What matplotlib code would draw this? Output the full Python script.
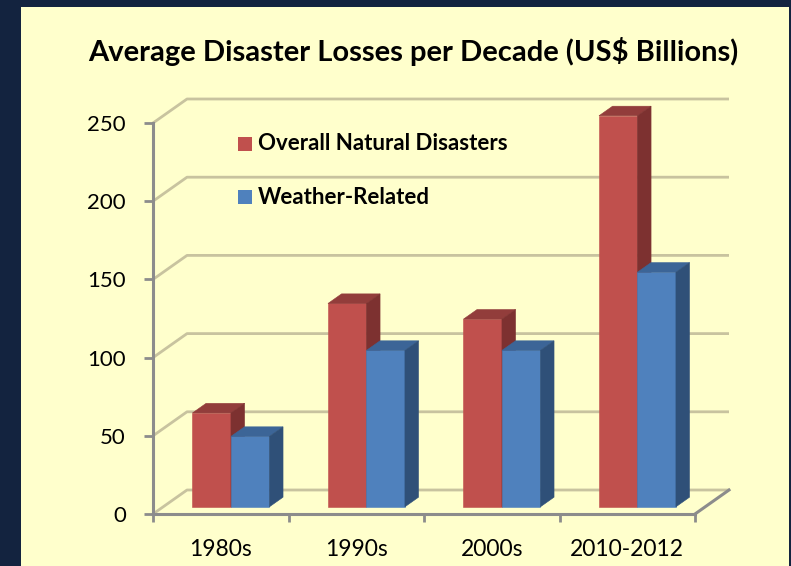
import matplotlib
matplotlib.use("Agg")
import matplotlib.pyplot as plt
from matplotlib.patches import Polygon, Rectangle

plt.rcParams['font.family'] = ['Lato', 'DejaVu Sans']

# ---- data ----
categories = ["1980s", "1990s", "2000s", "2010-2012"]
overall = [60, 130, 120, 250]
weather = [45, 100, 100, 150]
series_names = ["Overall Natural Disasters", "Weather-Related"]
y_ticks = [0, 50, 100, 150, 200, 250]
title = "Average Disaster Losses per Decade (US$ Billions)"

# ---- style ----
BG = "#FFFFCC"
FRAME = "#13233F"
GRID = "#C8C39F"
AXIS = "#8C8C8C"
FACES = {
    0: ("#C0504D", "#923D3B", "#7D3130"),   # front, top, side
    1: ("#4F81BD", "#3C6597", "#2F5078"),
}

W, H = 791, 566
fig = plt.figure(figsize=(W / 100, H / 100), dpi=100)
fig.patch.set_facecolor(FRAME)
fig.add_artist(Rectangle((21 / W, 0), (789 - 21) / W, (H - 7) / H,
                         transform=fig.transFigure, facecolor=BG,
                         edgecolor="none", zorder=0))

# front plane of the plot box
x0_px, x1_px, ytop_px, ybot_px = 153, 695, 123, 514
ax = fig.add_axes([x0_px / W, (H - ybot_px) / H,
                   (x1_px - x0_px) / W, (ybot_px - ytop_px) / H])
ax.set_facecolor("none")
ax.set_xlim(-0.5, len(categories) - 0.5)
ax.set_ylim(0, 250)

# depth offset of the back wall, in data units
px_per_cat = (x1_px - x0_px) / len(categories)
px_per_val = (ybot_px - ytop_px) / 250
DX = 34 / px_per_cat
DY = 24 / px_per_val


def proj(x, v, d):
    return (x + d * DX, v + d * DY)


xl, xr = -0.5, len(categories) - 0.5

# gridlines on side and back walls
for v in y_ticks:
    pts = [proj(xl, v, 0), proj(xl, v, 1), proj(xr, v, 1)]
    ax.plot(*zip(*pts), color=GRID, lw=2.0, solid_capstyle="butt",
            clip_on=False, zorder=1)
# right floor edge
ax.plot(*zip(proj(xr, 0, 0), proj(xr, 0, 1)), color=AXIS, lw=2.2,
        clip_on=False, zorder=1)

# bars
bw = 0.284
f0, f1 = 0.3, 0.7
for i in range(len(categories)):
    for s, vals in enumerate([overall, weather]):
        v = vals[i]
        a = i - bw if s == 0 else i
        b = a + bw
        front, top, side = FACES[s]
        faces = [
            ([proj(a, 0, f0), proj(b, 0, f0), proj(b, v, f0), proj(a, v, f0)], front),
            ([proj(a, v, f0), proj(b, v, f0), proj(b, v, f1), proj(a, v, f1)], top),
            ([proj(b, 0, f0), proj(b, 0, f1), proj(b, v, f1), proj(b, v, f0)], side),
        ]
        for pts, col in faces:
            ax.add_patch(Polygon(pts, closed=True, facecolor=col,
                                 edgecolor=col, lw=0.4, clip_on=False,
                                 zorder=3))

# front axes
for sp in ["top", "right"]:
    ax.spines[sp].set_visible(False)
for sp in ["left", "bottom"]:
    ax.spines[sp].set_color(AXIS)
    ax.spines[sp].set_linewidth(2.2)
    ax.spines[sp].set_zorder(4)
ax.set_yticks(y_ticks)
ax.set_yticklabels([str(t) for t in y_ticks])
ax.tick_params(axis="y", direction="out", length=6.5, width=2, color=AXIS,
               pad=13, labelsize=16, labelcolor="black")
ax.set_xticks([i - 0.5 for i in range(len(categories) + 1)])
ax.set_xticklabels([])
ax.set_xticks(range(len(categories)), minor=True)
ax.set_xticklabels(categories, minor=True)
ax.tick_params(axis="x", which="major", direction="out", length=6,
               width=2, color=AXIS)
ax.tick_params(axis="x", which="minor", length=0, pad=18, labelsize=16.5,
               labelcolor="black")

# legend
leg_x, leg_y0, leg_dy = 238, 144, 53
for s, name in enumerate(series_names):
    yy = leg_y0 + s * leg_dy
    fig.add_artist(Rectangle((leg_x / W, (H - yy - 7) / H), 14 / W, 14 / H,
                             transform=fig.transFigure,
                             facecolor=FACES[s][0], edgecolor="none"))
    fig.text(258 / W, (H - yy) / H, name, fontsize=16, fontweight="bold",
             ha="left", va="center")

fig.text(413 / W, (H - 52) / H, title, fontsize=21, fontweight="bold",
         ha="center", va="center")

fig.savefig("out.png", dpi=100, facecolor=fig.get_facecolor())
